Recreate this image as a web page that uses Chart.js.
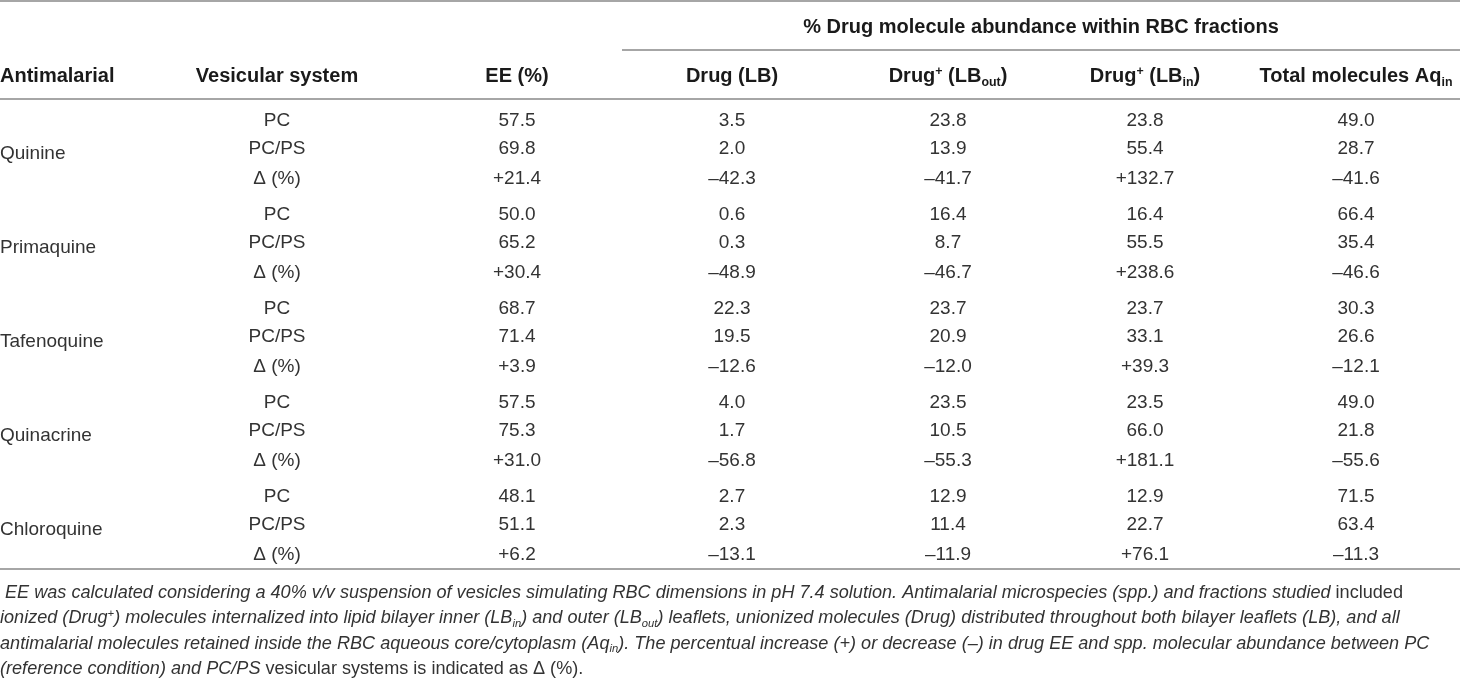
<!DOCTYPE html>
<html><head><meta charset="utf-8">
<script src="https://cdn.jsdelivr.net/npm/chart.js@4/dist/chart.umd.min.js"></script>
<style>html,body{margin:0;padding:0;background:#fff;}#wrap{width:1460px;height:680px;position:relative;}</style>
</head><body><div id="wrap"><canvas id="c" width="1460" height="680"></canvas></div>
<script>
// ---------- DATA ----------
const antimalarials = ['Quinine', 'Primaquine', 'Tafenoquine', 'Quinacrine', 'Chloroquine'];
const vesicularSystems = ['PC', 'PC/PS', 'Δ (%)'];
const eePct      = [57.5, 69.8, 21.4,  50.0, 65.2, 30.4,  68.7, 71.4, 3.9,   57.5, 75.3, 31.0,  48.1, 51.1, 6.2];
const drugLB     = [3.5, 2.0, -42.3,   0.6, 0.3, -48.9,   22.3, 19.5, -12.6, 4.0, 1.7, -56.8,   2.7, 2.3, -13.1];
const drugLBout  = [23.8, 13.9, -41.7, 16.4, 8.7, -46.7,  23.7, 20.9, -12.0, 23.5, 10.5, -55.3, 12.9, 11.4, -11.9];
const drugLBin   = [23.8, 55.4, 132.7, 16.4, 55.5, 238.6, 23.7, 33.1, 39.3,  23.5, 66.0, 181.1, 12.9, 22.7, 76.1];
const totalAqIn  = [49.0, 28.7, -41.6, 66.4, 35.4, -46.6, 30.3, 26.6, -12.1, 49.0, 21.8, -55.6, 71.5, 63.4, -11.3];
const spanHeader = '% Drug molecule abundance within RBC fractions';
const headerAntimalarial = [{t: 'Antimalarial'}];
const headerSystem = [{t: 'Vesicular system'}];
const headerEE = [{t: 'EE (%)'}];
const headerLB = [{t: 'Drug (LB)'}];
const headerLBout = [{t: 'Drug'}, {t: '+', sup: true}, {t: ' (LB'}, {t: 'out', sub: true}, {t: ')'}];
const headerLBin = [{t: 'Drug'}, {t: '+', sup: true}, {t: ' (LB'}, {t: 'in', sub: true}, {t: ')'}];
const headerAq = [{t: 'Total molecules Aq'}, {t: 'in', sub: true}];
const footnoteLines = [
  [{t: ' EE was calculated considering a 40% v/v suspension of vesicles simulating RBC dimensions in pH 7.4 solution. Antimalarial microspecies (spp.) and fractions studied', i: true}, {t: ' included'}],
  [{t: 'ionized (Drug', i: true}, {t: '+', i: true, sup: true}, {t: ') molecules internalized into lipid bilayer inner (LB', i: true}, {t: 'in', i: true, sub: true}, {t: ') and outer (LB', i: true}, {t: 'out', i: true, sub: true}, {t: ') leaflets, unionized molecules (Drug) distributed throughout both bilayer leaflets (LB), and all', i: true}],
  [{t: 'antimalarial molecules retained inside the RBC aqueous core/cytoplasm (Aq', i: true}, {t: 'in', i: true, sub: true}, {t: '). The percentual increase (+) or decrease (–) in drug EE and spp. molecular abundance between PC', i: true}],
  [{t: '(reference condition) and PC/PS', i: true}, {t: ' vesicular systems is indicated as Δ (%).'}]
];

// ---------- LAYOUT ----------
const W = 1460, H = 680;
const X_NAME = 0, X_SYS = 277, X_EE = 517, X_LB = 732, X_LBOUT = 948, X_LBIN = 1145, X_AQ = 1356;
const ROW0 = 119, GROUP = 94, ROW_OFFS = [0, 28, 58], NAME_OFF = 33;
const Y_TOP = 1, Y_SPAN = 26, Y_SPANLINE = 50, Y_HEAD = 75, Y_HEADLINE = 99, Y_BOTTOM = 569;
const FOOT_Y0 = 591, FOOT_DY = 25.6, FOOT_WIDTH1 = 1404;
const X_SPANLINE = 622;
const FAMILY = '"Liberation Sans", Arial, Helvetica, sans-serif';
const BODY = {size: 19, weight: '400', color: '#333333'};
const BOLD = {size: 20, weight: '700', color: '#1a1a1a'};
const RULE = '#a6a6a6';

const rowY = i => ROW0 + Math.floor(i / 3) * GROUP + ROW_OFFS[i % 3];
const fmt = (v, i) => (i % 3 === 2) ? ((v >= 0 ? '+' : '–') + Math.abs(v).toFixed(1)) : v.toFixed(1);

function fontOf(f, seg, size) {
  return (seg.i ? 'italic ' : '') + f.weight + ' ' + size + 'px ' + FAMILY;
}
function segSize(f, seg) { return (seg.sub || seg.sup) ? f.size * 0.62 : f.size; }
function measureRich(ctx, segs, f) {
  let w = 0;
  segs.forEach(s => { ctx.font = fontOf(f, s, segSize(f, s)); w += ctx.measureText(s.t).width; });
  return w;
}
function drawRich(ctx, segs, x, yc, align, f) {
  const w = measureRich(ctx, segs, f);
  let cx = align === 'center' ? x - w / 2 : (align === 'right' ? x - w : x);
  const base = yc + f.size * 0.36;
  ctx.fillStyle = f.color;
  ctx.textAlign = 'left';
  ctx.textBaseline = 'alphabetic';
  segs.forEach(s => {
    const sz = segSize(f, s);
    ctx.font = fontOf(f, s, sz);
    let y = base;
    if (s.sub) y = base + f.size * 0.2;
    if (s.sup) y = base - f.size * 0.36;
    ctx.fillText(s.t, cx, y);
    cx += ctx.measureText(s.t).width;
  });
}

// ---------- DATASETS ----------
function cellDataset(xPos, texts, align, font) {
  return {
    type: 'scatter',
    data: texts.map((_, i) => ({x: xPos, y: rowY(i)})),
    cellTexts: texts, align: align, fontSpec: font,
    pointRadius: 0, pointHoverRadius: 0, showLine: false
  };
}
function ruleDataset(x0, x1, y) {
  return {
    type: 'line', data: [{x: x0, y: y}, {x: x1, y: y}],
    borderColor: RULE, borderWidth: 2, pointRadius: 0, fill: false
  };
}
const systemTexts = [];
antimalarials.forEach(() => vesicularSystems.forEach(s => systemTexts.push(s)));

const datasets = [
  ruleDataset(0, W, Y_TOP),
  ruleDataset(X_SPANLINE, W, Y_SPANLINE),
  ruleDataset(0, W, Y_HEADLINE),
  ruleDataset(0, W, Y_BOTTOM),
  {
    type: 'scatter',
    data: antimalarials.map((_, g) => ({x: X_NAME, y: ROW0 + g * GROUP + NAME_OFF})),
    cellTexts: antimalarials, align: 'left', fontSpec: BODY, pointRadius: 0, pointHoverRadius: 0
  },
  cellDataset(X_SYS, systemTexts, 'center', BODY),
  cellDataset(X_EE, eePct.map(fmt), 'center', BODY),
  cellDataset(X_LB, drugLB.map(fmt), 'center', BODY),
  cellDataset(X_LBOUT, drugLBout.map(fmt), 'center', BODY),
  cellDataset(X_LBIN, drugLBin.map(fmt), 'center', BODY),
  cellDataset(X_AQ, totalAqIn.map(fmt), 'center', BODY)
];

const tablePlugin = {
  id: 'tableText',
  afterDatasetsDraw(chart) {
    const ctx = chart.ctx, xs = chart.scales.x, ys = chart.scales.y;
    const px = v => xs.getPixelForValue(v), py = v => ys.getPixelForValue(v);
    ctx.save();
    chart.data.datasets.forEach((ds, di) => {
      if (!ds.cellTexts) return;
      chart.getDatasetMeta(di).data.forEach((pt, i) => {
        drawRich(ctx, [{t: ds.cellTexts[i]}], pt.x, pt.y, ds.align, ds.fontSpec);
      });
    });
    // headers
    drawRich(ctx, [{t: spanHeader}], px((X_SPANLINE + W) / 2), py(Y_SPAN), 'center', BOLD);
    drawRich(ctx, headerAntimalarial, px(X_NAME), py(Y_HEAD), 'left', BOLD);
    drawRich(ctx, headerSystem, px(X_SYS), py(Y_HEAD), 'center', BOLD);
    drawRich(ctx, headerEE, px(X_EE), py(Y_HEAD), 'center', BOLD);
    drawRich(ctx, headerLB, px(X_LB), py(Y_HEAD), 'center', BOLD);
    drawRich(ctx, headerLBout, px(X_LBOUT), py(Y_HEAD), 'center', BOLD);
    drawRich(ctx, headerLBin, px(X_LBIN), py(Y_HEAD), 'center', BOLD);
    drawRich(ctx, headerAq, px(X_AQ), py(Y_HEAD), 'center', BOLD);
    // footnote, size fitted so that the first line spans FOOT_WIDTH1
    const probe = {size: 100, weight: '400', color: BODY.color};
    const fs = 100 * FOOT_WIDTH1 / measureRich(ctx, footnoteLines[0], probe);
    const FOOT = {size: fs, weight: '400', color: BODY.color};
    footnoteLines.forEach((segs, k) => {
      drawRich(ctx, segs, px(0), py(FOOT_Y0 + k * FOOT_DY), 'left', FOOT);
    });
    ctx.restore();
  }
};

new Chart(document.getElementById('c'), {
  data: {datasets: datasets},
  options: {
    responsive: false, animation: false, devicePixelRatio: 1,
    layout: {padding: 0},
    plugins: {legend: {display: false}, tooltip: {enabled: false}},
    events: [],
    scales: {
      x: {type: 'linear', min: 0, max: W, display: false},
      y: {type: 'linear', min: 0, max: H, reverse: true, display: false}
    }
  },
  plugins: [tablePlugin]
});
</script></body></html>
